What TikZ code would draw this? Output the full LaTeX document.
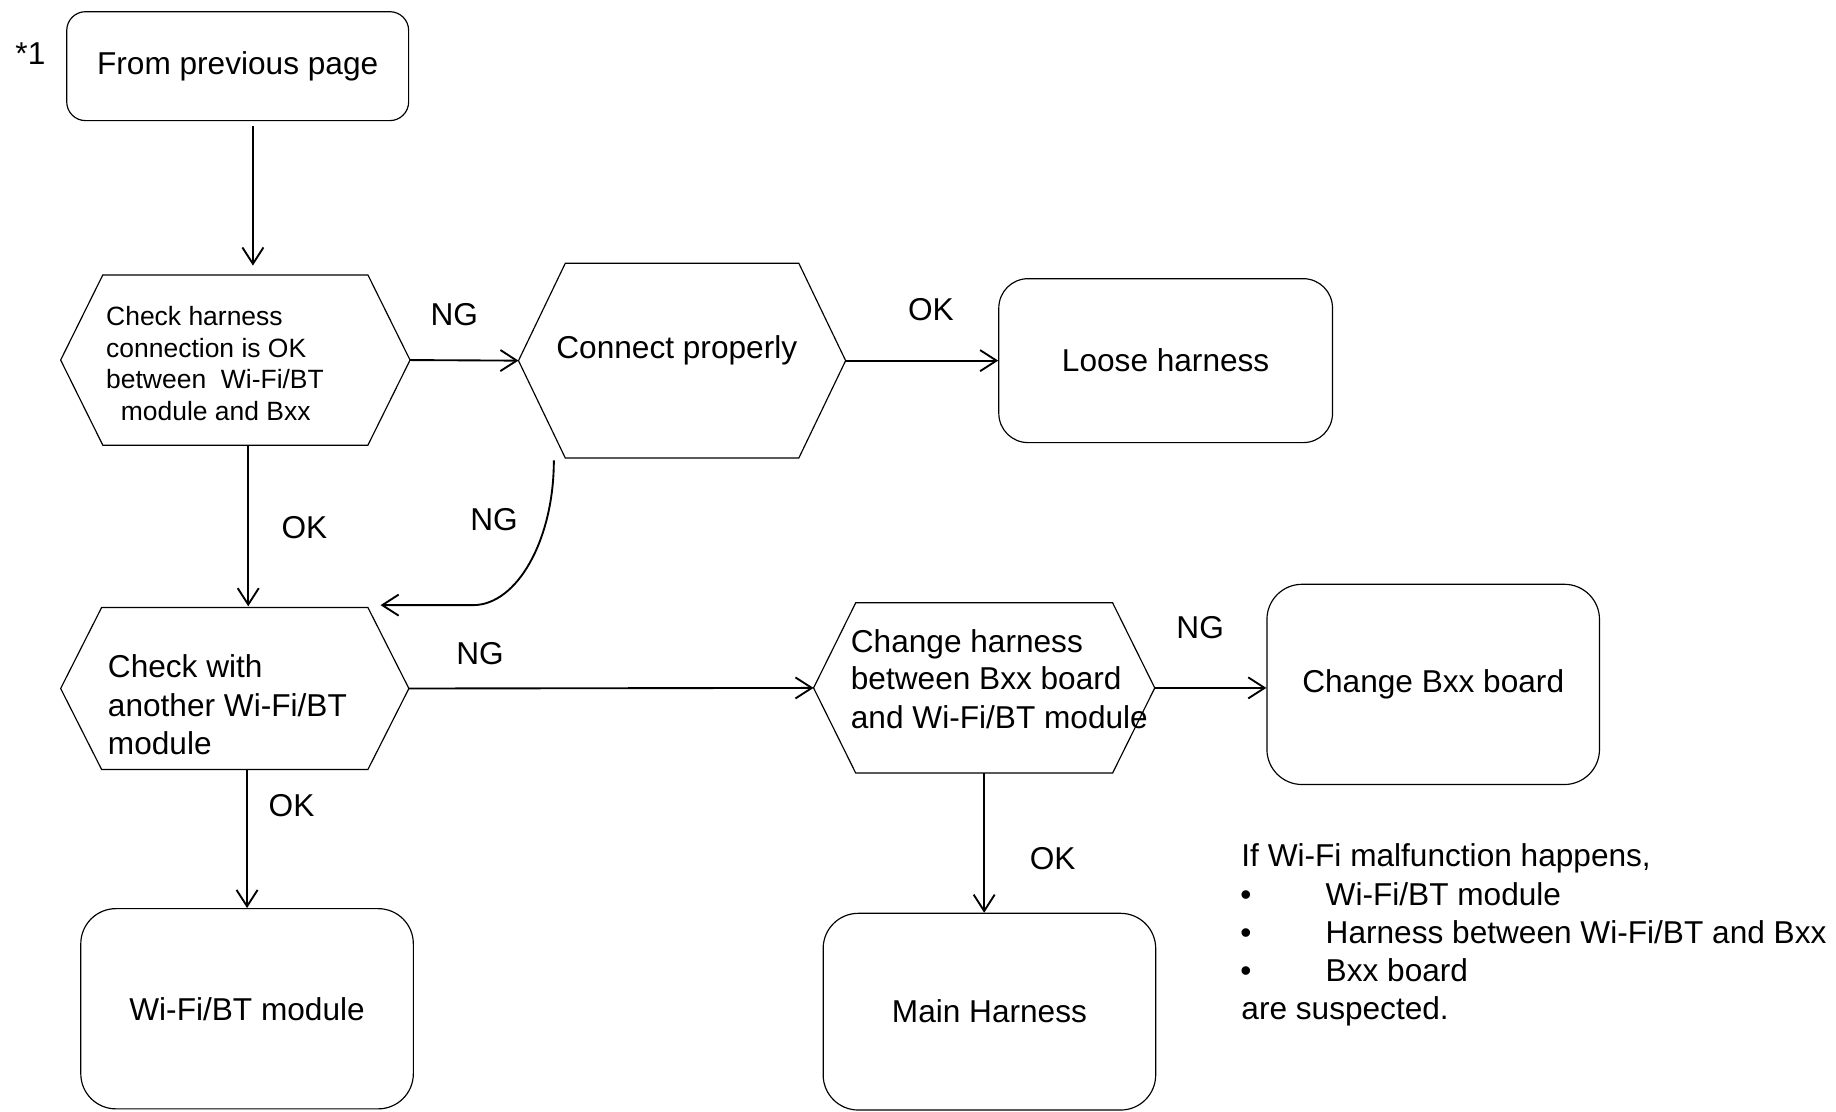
\documentclass[tikz,border=0pt]{standalone}
\usepackage{fontspec}
\setmainfont{Liberation Sans}
\usetikzlibrary{arrows.meta,calc}
\newcommand\hexpath[2]{\draw[shapeline] (#1.west) -- ([xshift=#2]#1.north west) -- ([xshift=-#2]#1.north east) -- (#1.east) -- ([xshift=-#2]#1.south east) -- ([xshift=#2]#1.south west) -- cycle;}
\begin{document}
\begin{tikzpicture}[x=1pt,y=-1pt,
  shapeline/.style={line width=1pt},
  arr/.style={line width=1.6pt,-{Straight Barb[length=14pt,width=18pt,line width=1.6pt]}},
  txt/.style={font=\fontsize{27}{32.6}\selectfont, inner sep=0pt},
  smalltxt/.style={font=\fontsize{22.6}{27}\selectfont, inner sep=0pt, anchor=base west},
  line/.style={txt, anchor=base west},
  lbl/.style={txt, anchor=center},
  rbox/.style={draw, line width=1pt, rounded corners=#1, txt},
  hexn/.style={draw=none, inner sep=0pt}]
\useasboundingbox (0,0) rectangle (1568,949);

% nodes
\node[rbox=16pt, minimum width=292pt, minimum height=93pt] (b0) at (203,56.5) {From previous page};
\node[hexn, minimum width=298pt, minimum height=145pt] (h1) at (201,307.5) {};
\node[hexn, minimum width=279pt, minimum height=166pt] (h2) at (582.5,308) {};
\node[rbox=25pt, minimum width=285pt, minimum height=140pt] (lh) at (995.5,308) {Loose harness};
\node[hexn, minimum width=297pt, minimum height=138pt] (h3) at (200.5,588) {};
\node[hexn, minimum width=291pt, minimum height=145pt] (h4) at (840.5,587.5) {};
\node[rbox=30pt, minimum width=284pt, minimum height=171pt] (cb) at (1224,584.5) {Change Bxx board};
\node[rbox=30pt, minimum width=284pt, minimum height=171pt] (wf) at (211,861.5) {Wi-Fi/BT module};
\node[rbox=30pt, minimum width=284pt, minimum height=168pt] (mh) at (845,864) {Main Harness};

\hexpath{h1}{36pt}
\hexpath{h2}{40pt}
\hexpath{h3}{35pt}
\hexpath{h4}{36pt}

% texts
\node[line] (star) at (13,55.5) {*1};
\node[smalltxt] (t1a) at (90.5,278) {Check harness};
\node[smalltxt] (t1b) at (90.5,305) {connection is OK};
\node[smalltxt] (t1c) at (90.5,332) {between\ \ Wi-Fi/BT};
\node[smalltxt] (t1d) at (103,359) {module and Bxx};
\node[txt, anchor=base] (t2) at (578,306.5) {Connect properly};
\node[line] (t3a) at (92,579) {Check with};
\node[line] (t3b) at (92,612) {another Wi-Fi/BT};
\node[line] (t3c) at (92,644) {module};
\node[line] (t4a) at (726.5,557) {Change harness};
\node[line] (t4b) at (726.5,589) {between Bxx board};
\node[line] (t4c) at (726.5,622) {and Wi-Fi/BT module};

\node[line] (n0) at (1060,740) {If Wi-Fi malfunction happens,};
\node[line] (n1b) at (1059,773) {•};
\node[line] (n1) at (1132,773) {Wi-Fi/BT module};
\node[line] (n2b) at (1059,805.5) {•};
\node[line] (n2) at (1132,805.5) {Harness between Wi-Fi/BT and Bxx};
\node[line] (n3b) at (1059,838.5) {•};
\node[line] (n3) at (1132,838.5) {Bxx board};
\node[line] (n4) at (1060,871) {are suspected.};

% labels
\node[lbl] (l1) at (388,269) {NG};
\node[lbl] (l2) at (795,264) {OK};
\node[lbl] (l3) at (260,451) {OK};
\node[lbl] (l4) at (422,444) {NG};
\node[lbl] (l5) at (410,558) {NG};
\node[lbl] (l6) at (1025,536) {NG};
\node[lbl] (l7) at (249,688) {OK};
\node[lbl] (l8) at (899,733) {OK};

% connectors
\draw[arr] ($(b0.south)+(13,4)$) -- ($(b0.south |- h1.north)+(13,-8)$);
\draw[arr] (h1.east) -- (h2.west);
\draw[arr] (h2.east) -- (lh.west);
\draw[arr] ($(h1.south)+(11,0)$) -- ($(h1.south |- h3.north)+(11,-1)$);
\draw[arr] ($(h2.south)+(-109.5,2)$) .. controls ($(h2.south)+(-109.5,70)$) and ($(h3.north)+(241,-2)$) .. ($(h3.north)+(203.5,-2)$) -- ($(h3.north)+(124.5,-2)$);
\draw[arr] (h3.east) -- (h4.west);
\draw[arr] (h4.east) -- (h4.east -| cb.west);
\draw[arr] (h4.south) -- (h4.south |- mh.north);
\draw[arr] (wf.north |- h3.south) -- (wf.north);
\end{tikzpicture}
\end{document}
